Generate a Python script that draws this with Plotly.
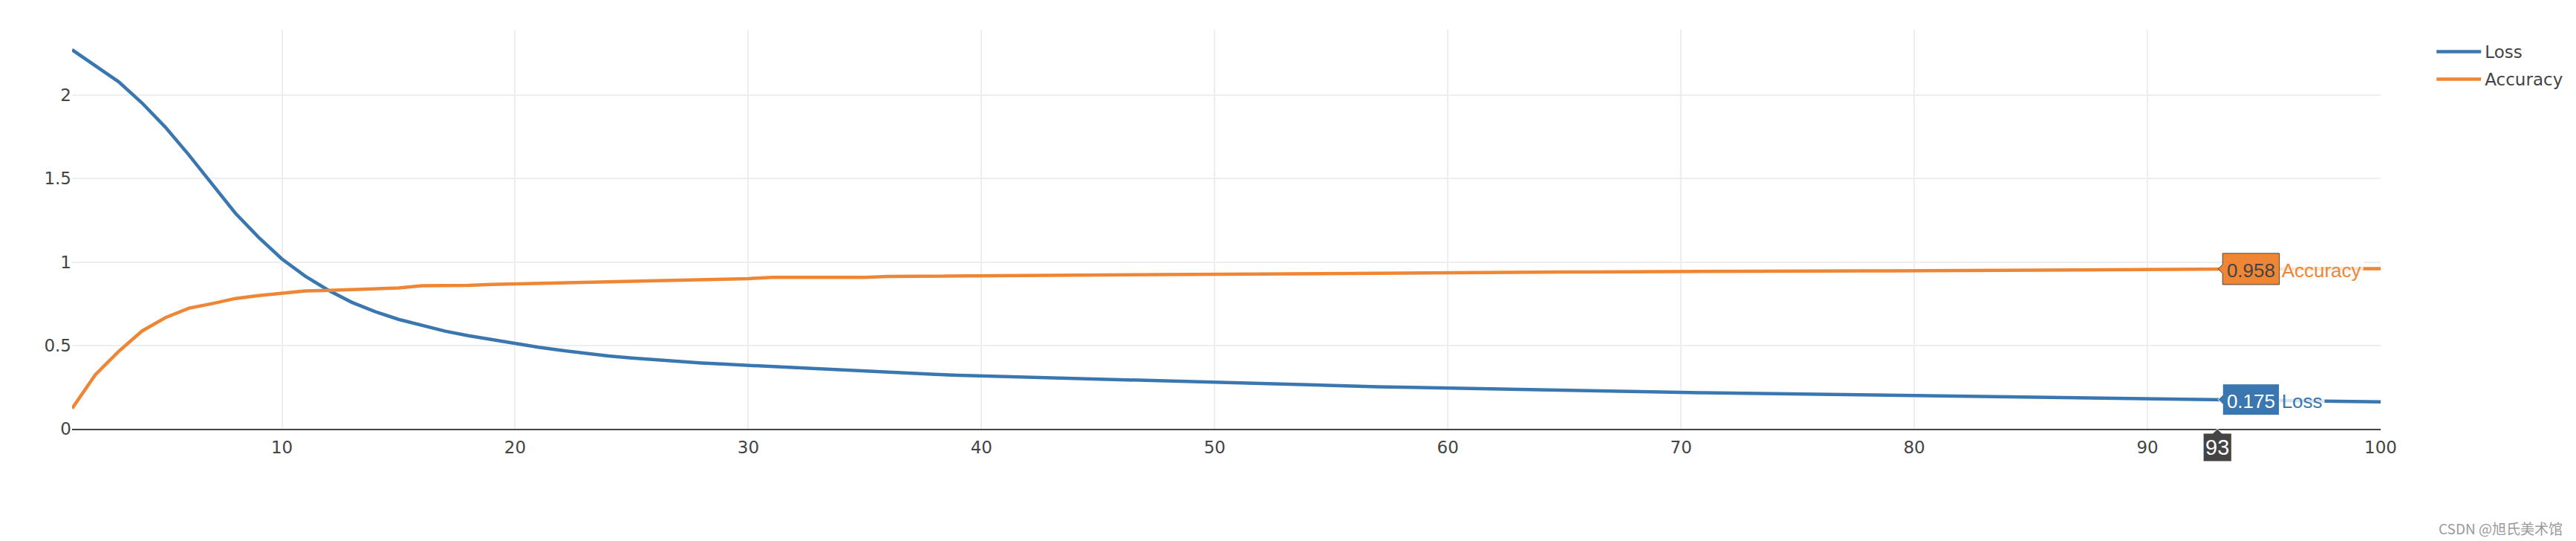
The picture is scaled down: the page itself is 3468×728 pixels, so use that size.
import plotly.graph_objects as go

epochs = list(range(1, 101))

loss = [
    2.272, 2.179, 2.080, 1.953, 1.808, 1.643, 1.468, 1.293, 1.148, 1.018,
    0.915, 0.830, 0.758, 0.702, 0.656, 0.618, 0.585, 0.558, 0.534, 0.511,
    0.489, 0.470, 0.452, 0.437, 0.424, 0.413, 0.403, 0.394, 0.387, 0.380,
    0.372, 0.365, 0.357, 0.349, 0.344, 0.338, 0.332, 0.326, 0.321, 0.317,
    0.312, 0.308, 0.304, 0.300, 0.296, 0.292, 0.288, 0.284, 0.279, 0.275,
    0.272, 0.268, 0.265, 0.262, 0.258, 0.255, 0.252, 0.249, 0.246, 0.243,
    0.240, 0.238, 0.235, 0.232, 0.230, 0.227, 0.225, 0.222, 0.220, 0.218,
    0.216, 0.214, 0.212, 0.210, 0.208, 0.206, 0.204, 0.201, 0.199, 0.197,
    0.195, 0.193, 0.191, 0.189, 0.187, 0.185, 0.183, 0.181, 0.179, 0.178,
    0.177, 0.176, 0.175, 0.173, 0.171, 0.169, 0.167, 0.165, 0.163, 0.161,
]

accuracy = [
    0.122, 0.324, 0.464, 0.586, 0.666, 0.722, 0.750, 0.781, 0.798, 0.812,
    0.826, 0.830, 0.836, 0.841, 0.844, 0.857, 0.857, 0.860, 0.865, 0.869,
    0.872, 0.875, 0.878, 0.881, 0.884, 0.887, 0.890, 0.893, 0.897, 0.900,
    0.908, 0.908, 0.908, 0.908, 0.908, 0.913, 0.914, 0.915, 0.916, 0.917,
    0.918, 0.919, 0.920, 0.921, 0.922, 0.923, 0.923, 0.924, 0.929, 0.929,
    0.930, 0.930, 0.931, 0.931, 0.932, 0.932, 0.933, 0.934, 0.934, 0.935,
    0.936, 0.937, 0.938, 0.939, 0.940, 0.940, 0.941, 0.941, 0.942, 0.942,
    0.943, 0.943, 0.944, 0.944, 0.945, 0.945, 0.946, 0.947, 0.947, 0.948,
    0.948, 0.949, 0.951, 0.952, 0.953, 0.954, 0.955, 0.956, 0.957, 0.957,
    0.957, 0.958, 0.958, 0.958, 0.959, 0.959, 0.959, 0.960, 0.960, 0.960,
]

series_names = ["Loss", "Accuracy"]
series_colors = ["#3a76af", "#ef8636"]
hover_epoch = 93
watermark = "CSDN @旭氏美术馆"

spacer = "<span style='font-size:32px'>\u200a</span>"
fig = go.Figure()
for name, vals, col in zip(series_names, [loss, accuracy], series_colors):
    fig.add_trace(go.Scatter(x=epochs, y=vals, mode="lines", name=name,
                             legendgroup=name,
                             hovertemplate=spacer + "%{y:.3f}" + spacer,
                             hoverlabel=dict(font=dict(family="Arial, Liberation Sans", size=26)),
                             line=dict(color=col, width=4.5)))

tick_font = dict(family="DejaVu Sans", size=23, color="#444")
fig.update_layout(
    width=3468, height=728,
    margin=dict(l=97, r=263, t=40, b=151),
    paper_bgcolor="white", plot_bgcolor="white",
    hovermode="x",
    hoverlabel=dict(font=dict(family="Arial, Liberation Sans", size=29)),
    font=dict(family="DejaVu Sans", size=23, color="#444"),
    legend=dict(x=1.0226, y=0.985, xanchor="left", yanchor="top",
                font=dict(family="DejaVu Sans", size=23, color="#444"),
                itemwidth=60, tracegroupgap=4, traceorder="grouped"),
    xaxis=dict(range=[1, 100], dtick=10, tick0=0, showgrid=True,
               gridcolor="#eee", gridwidth=2, showline=True,
               linecolor="#444", linewidth=2, zeroline=False,
               tickfont=tick_font, hoverformat="d", ticklabelstandoff=3),
    yaxis=dict(range=[0, 2.392], dtick=0.5, tick0=0, showgrid=True,
               gridcolor="#eee", gridwidth=2, zeroline=False,
               tickfont=tick_font),
    annotations=[dict(text=watermark, xref="paper", yref="paper",
                      x=1.0795, y=-0.248, xanchor="right", yanchor="middle",
                      showarrow=False,
                      font=dict(family="Noto Sans CJK SC", size=19, color="#9a9a9a"))],
)

post = """
(function(){
  document.body.style.margin = '0';
  document.body.style.overflow = 'hidden';
  var gd = document.getElementById('{plot_id}');
  var xv = %d;
  var done = false;
  try {
    if (window.Plotly && Plotly.Fx && typeof Plotly.Fx.hover === 'function') {
      Plotly.Fx.hover(gd, {xval: xv}, 'xy');
      done = !!gd.querySelector('.hoverlayer .hovertext');
    }
  } catch(e) {}
  if (done) return;
  var drag = gd.querySelector('.nsewdrag');
  if (!drag) return;
  var r = drag.getBoundingClientRect();
  var xa = gd._fullLayout.xaxis, ya = gd._fullLayout.yaxis;
  var cx = r.left + xa.d2p(xv), cy = r.top + ya.d2p(0.5);
  drag.dispatchEvent(new MouseEvent('mousemove', {clientX: cx, clientY: cy, bubbles: true, view: window}));
})();
""" % hover_epoch

fig.write_html("out.html", config={"displayModeBar": False}, post_script=post)
